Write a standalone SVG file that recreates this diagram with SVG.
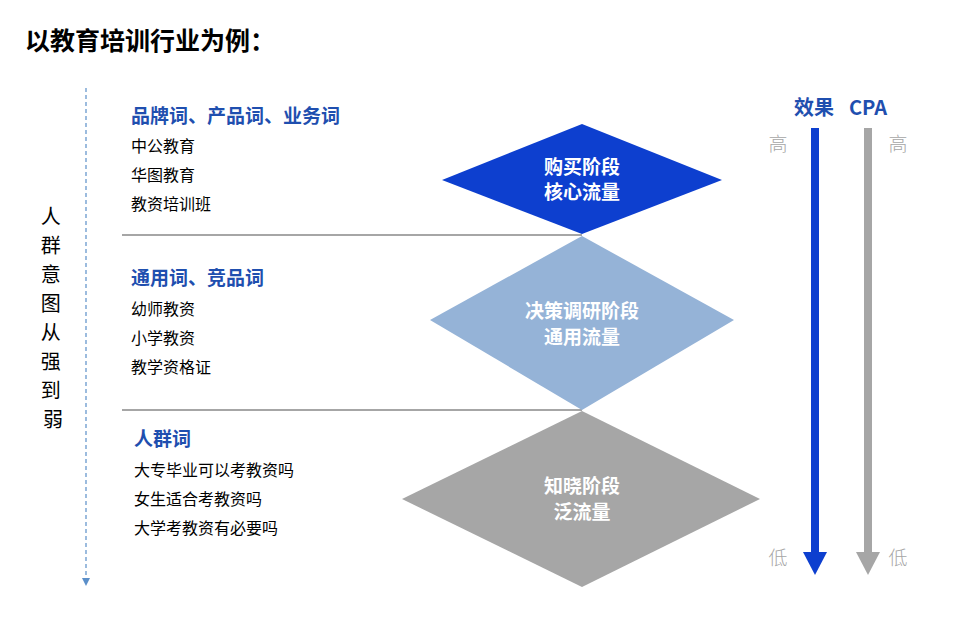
<svg xmlns="http://www.w3.org/2000/svg" width="967" height="617" viewBox="0 0 967 617">
<style>
.title{font-family:"Noto Sans CJK SC","Liberation Sans",sans-serif;font-weight:700;font-size:25px;fill:#000}
.head{font-family:"Noto Sans CJK SC","Liberation Sans",sans-serif;font-weight:700;font-size:19px;fill:#1f4faf}
.item{font-family:"Noto Sans CJK SC","Liberation Sans",sans-serif;font-size:16px;fill:#000}
.side{font-family:"Noto Sans CJK SC","Liberation Sans",sans-serif;font-size:20px;fill:#000}
.dia{font-family:"Noto Sans CJK SC","Liberation Sans",sans-serif;font-weight:700;font-size:19px;fill:#fff}
.lvl{font-family:"Noto Sans CJK SC","Liberation Sans",sans-serif;font-weight:300;font-size:19px;fill:#a6a6a6}
.sep{stroke:#a6a6a6;stroke-width:2}
</style>
<defs>
<marker id="dash-arrow" markerWidth="8" markerHeight="8" refX="4" refY="4" orient="auto" markerUnits="userSpaceOnUse">
<path d="M0,0 L8,4 L0,8 Z" fill="#5b8fc9"/>
</marker>
</defs>
<text class="title" x="25" y="50">以教育培训行业为例：</text>

<g id="connectors">
<line x1="86" y1="88" x2="86" y2="582" stroke="#5b8fc9" stroke-width="1.2" stroke-dasharray="4,3" marker-end="url(#dash-arrow)"/>
<line class="sep" x1="122" y1="235" x2="582" y2="235"/>
<line class="sep" x1="122" y1="410" x2="582" y2="410"/>
</g>

<g id="side-label">
<text class="side" text-anchor="middle" x="53">
<tspan x="53" y="224">人</tspan>
<tspan x="53" y="253">群</tspan>
<tspan x="53" y="282">意</tspan>
<tspan x="53" y="311">图</tspan>
<tspan x="53" y="340">从</tspan>
<tspan x="53" y="369">强</tspan>
<tspan x="53" y="398">到</tspan>
<tspan x="53" y="427">弱</tspan>
</text>
</g>

<g id="section1">
<text class="head" x="131" y="123">品牌词、产品词、业务词</text>
<text class="item" x="131" y="152">中公教育</text>
<text class="item" x="131" y="181">华图教育</text>
<text class="item" x="131" y="210">教资培训班</text>
</g>
<g id="section2">
<text class="head" x="131" y="285">通用词、竞品词</text>
<text class="item" x="131" y="315">幼师教资</text>
<text class="item" x="131" y="344">小学教资</text>
<text class="item" x="131" y="373">教学资格证</text>
</g>
<g id="section3">
<text class="head" x="134" y="446">人群词</text>
<text class="item" x="134" y="476">大专毕业可以考教资吗</text>
<text class="item" x="134" y="505">女生适合考教资吗</text>
<text class="item" x="134" y="534">大学考教资有必要吗</text>
</g>

<g id="diamond-buy">
<polygon points="442,180 582,124 722,180 582,234" fill="#0d3fcf"/>
<text class="dia" text-anchor="middle" x="582" y="174">购买阶段</text>
<text class="dia" text-anchor="middle" x="582" y="199">核心流量</text>
</g>
<g id="diamond-decide">
<polygon points="430,320 582,236 734,320 582,410" fill="#95b3d7"/>
<text class="dia" text-anchor="middle" x="582" y="318">决策调研阶段</text>
<text class="dia" text-anchor="middle" x="582" y="344">通用流量</text>
</g>
<g id="diamond-aware">
<polygon points="402,499 582,411 760,499 582,587" fill="#a6a6a6"/>
<text class="dia" text-anchor="middle" x="582" y="493">知晓阶段</text>
<text class="dia" text-anchor="middle" x="582" y="519">泛流量</text>
</g>

<g id="effect-arrow">
<text class="head" style="font-size:20px" text-anchor="middle" x="814" y="115">效果</text>
<rect x="811" y="128" width="8" height="424" fill="#0d3fcf"/>
<polygon points="803,552 827,552 815,575" fill="#0d3fcf"/>
</g>
<g id="cpa-arrow">
<text class="head" style="font-size:20px" text-anchor="middle" x="868" y="115">CPA</text>
<rect x="864" y="128" width="8" height="424" fill="#a6a6a6"/>
<polygon points="856,552 880,552 868,575" fill="#a6a6a6"/>
</g>
<g id="levels">
<text class="lvl" text-anchor="middle" x="778" y="151">高</text>
<text class="lvl" text-anchor="middle" x="898" y="151">高</text>
<text class="lvl" text-anchor="middle" x="778" y="565">低</text>
<text class="lvl" text-anchor="middle" x="898" y="565">低</text>
</g>
</svg>
